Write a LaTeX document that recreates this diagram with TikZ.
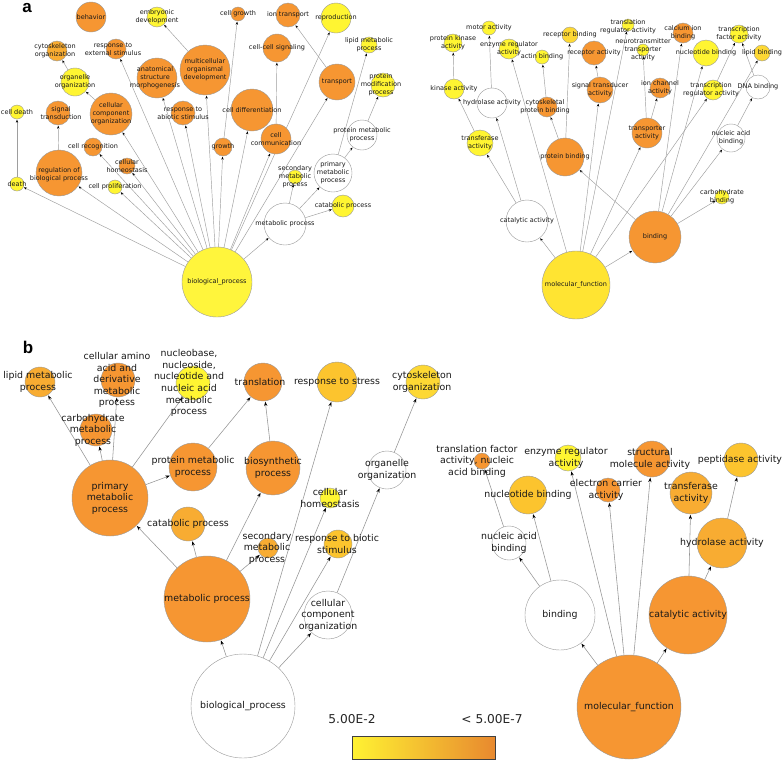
\documentclass[tikz,border=0pt]{standalone}
\usepackage{fontspec}
\setmainfont{DejaVu Sans}
\newfontfamily\labfont{Liberation Sans}
\usetikzlibrary{arrows.meta}
\definecolor{orA}{RGB}{246,150,50}
\definecolor{orB}{RGB}{248,172,50}
\definecolor{gold}{RGB}{252,196,46}
\definecolor{goldY}{RGB}{253,216,52}
\definecolor{yel}{RGB}{255,245,50}
\definecolor{yelbp}{RGB}{255,245,60}
\definecolor{yelmf}{RGB}{255,228,50}
\definecolor{barY}{RGB}{255,242,50}
\definecolor{barO}{RGB}{232,137,47}
\pgfdeclarelayer{bg}
\pgfsetlayers{bg,main}
\tikzset{
 gc/.style={circle,inner sep=0pt,draw=black!40,line width=0.4pt},
 ta/.style={font=\fontsize{6.5}{7.9}\selectfont,align=center,text=black!90,inner sep=0pt},
 tb/.style={font=\fontsize{9.4}{11.6}\selectfont,align=center,text=black!90,inner sep=0pt},
 ea/.style={draw=black!38,line width=0.45pt,-{Stealth[length=3pt,width=2.4pt,color=black]},shorten >=0.5pt},
 eb/.style={draw=black!42,line width=0.55pt,-{Stealth[length=4.5pt,width=3.2pt,color=black]},shorten >=0.5pt},
 plab/.style={font=\labfont\bfseries\fontsize{17}{17}\selectfont,inner sep=0pt}
}
\newcommand{\gn}[6]{\node[gc,minimum size=2*#3,fill=#4] (#1) at (#2) {}; \node[#5] at (#1) {#6};}
\begin{document}
\begin{tikzpicture}[x=1pt,y=-1pt]
\path[use as bounding box] (0,0) rectangle (784,761);
\node[plab] at (27,8) {a};
\node[plab] at (28,347) {b};
% ---------- panel a left
\gn{behav}{91,17}{15}{orA}{ta}{behavior}
\gn{embryo}{157,17}{10}{yel}{ta}{embryonic\\development}
\gn{cytoa}{57,51}{10}{orB}{ta,xshift=-2pt}{cytoskeleton\\organization}
\gn{rext}{116,49}{10}{orA}{ta,xshift=-3pt}{response to\\external stimulus}
\gn{orgA}{75,82}{14}{yel}{ta}{organelle\\organization}
\gn{anat}{157,78}{20}{orA}{ta,xshift=-2pt}{anatomical\\structure\\morphogenesis}
\gn{multi}{205,70}{25}{orA}{ta}{multicellular\\organismal\\development}
\gn{cdeath}{17,112}{7}{yel}{ta}{cell death}
\gn{sigtr}{58,113}{12}{orA}{ta,xshift=3pt}{signal\\transduction}
\gn{ccoA}{111,114}{21}{orA}{ta}{cellular\\component\\organization}
\gn{rabio}{183,113}{12}{orA}{ta}{response to\\abiotic stimulus}
\gn{crec}{93,147}{9}{orA}{ta}{cell recognition}
\gn{chomA}{127,166}{8}{orA}{ta}{cellular\\homeostasis}
\gn{regbp}{59,173}{23}{orA}{ta,yshift=-1.5pt}{regulation of\\biological process}
\gn{death}{17,184}{7}{yel}{ta}{death}
\gn{cprol}{115,187}{7}{yel}{ta}{cell proliferation}
\gn{bpA}{217,282}{35}{yelbp}{ta}{biological\_process}
\gn{cgrow}{238,14}{7}{orA}{ta}{cell growth}
\gn{iont}{288,15}{12}{orA}{ta}{ion transport}
\gn{repro}{336,18}{15}{yel}{ta}{reproduction}
\gn{ccsig}{277,48}{14}{orA}{ta}{cell-cell signaling}
\gn{lipA}{369,45}{8}{yel}{ta}{lipid metabolic\\process}
\gn{transp}{337,82}{18}{orA}{ta}{transport}
\gn{protmod}{383,85}{12}{yel}{ta,xshift=-2pt}{protein\\modification\\process}
\gn{cdiff}{252,110}{21}{orA}{ta}{cell differentiation}
\gn{growth}{223,147}{9}{orA}{ta}{growth}
\gn{ccomm}{276,139}{15}{orA}{ta}{cell\\communication}
\gn{pmpA}{362,135}{15}{white}{ta}{protein metabolic\\process}
\gn{secA}{295,177}{7}{yel}{ta}{secondary\\metabolic\\process}
\gn{primA}{333,173}{19}{white}{ta}{primary\\metabolic\\process}
\gn{metA}{285,224}{21}{white}{ta}{metabolic process}
\gn{catA}{343,206}{11}{yel}{ta}{catabolic process}
% ---------- panel a right
\gn{motor}{489,28}{7}{yel}{ta}{motor activity}
\gn{pka}{453,43}{9}{yel}{ta}{protein kinase\\activity}
\gn{eraA}{509,49}{10}{yel}{ta}{enzyme regulator\\activity}
\gn{recb}{570,35}{8}{goldY}{ta}{receptor binding}
\gn{actin}{542,57}{7}{yel}{ta}{actin binding}
\gn{reca}{594,53}{12}{orA}{ta}{receptor activity}
\gn{kin}{454,89}{10}{yel}{ta}{kinase activity}
\gn{hydA}{492,103}{15}{white}{ta}{hydrolase activity}
\gn{cytpb}{547,107}{10}{orA}{ta,xshift=-2pt}{cytoskeletal\\protein binding}
\gn{sigt}{600,90}{13}{orA}{ta}{signal transducer\\activity}
\gn{trfA}{480,143}{13}{yel}{ta}{transferase\\activity}
\gn{protb}{565,157}{19}{orA}{ta}{protein binding}
\gn{trreg}{628,25}{6}{yel}{ta,yshift=-2pt}{translation\\regulator activity}
\gn{neuro}{643,50}{6}{yel}{ta}{neurotransmitter\\transporter\\activity}
\gn{calc}{683,33}{10}{orA}{ta}{calcium ion\\binding}
\gn{nucbA}{706,53}{13}{yel}{ta}{nucleotide binding}
\gn{tfa}{739,34}{9}{yel}{ta}{transcription\\factor activity}
\gn{lipb}{762,53}{8}{goldY}{ta}{lipid binding}
\gn{ionch}{660,88}{10}{orA}{ta}{ion channel\\activity}
\gn{treg}{713,90}{10}{yel}{ta,xshift=-2pt}{transcription\\regulator activity}
\gn{dna}{758,87}{12}{white}{ta}{DNA binding}
\gn{trpA}{647,133}{15}{orA}{ta}{transporter\\activity}
\gn{nabA}{731,138}{14}{white}{ta}{nucleic acid\\binding}
\gn{carb}{722,197}{7}{yel}{ta}{carbohydrate\\binding}
\gn{catalA}{527,221}{21}{white}{ta}{catalytic activity}
\gn{bindA}{655,237}{26}{orA}{ta}{binding}
\gn{mfA}{576,285}{34}{yelmf}{ta}{molecular\_function}
% ---------- panel b left
\gn{lipB}{40,382}{15}{orB}{tb,xshift=-2pt}{lipid metabolic\\process}
\gn{camino}{118,380}{17}{orA}{tb,xshift=-1pt}{cellular amino\\acid and\\derivative\\metabolic\\process}
\gn{nucleo}{193,383}{17}{yel}{tb,xshift=-4pt}{nucleobase,\\nucleoside,\\nucleotide and\\nucleic acid\\metabolic\\process}
\gn{carbB}{96,430}{16}{orA}{tb,xshift=-3pt}{carbohydrate\\metabolic\\process}
\gn{transl}{263,382}{19}{orA}{tb,xshift=-3pt}{translation}
\gn{rstress}{337,382}{20}{gold}{tb}{response to stress}
\gn{cytoB}{423,382}{17}{goldY}{tb,xshift=-1pt}{cytoskeleton\\organization}
\gn{pmpB}{193,467}{24}{orA}{tb}{protein metabolic\\process}
\gn{biosyn}{273,468}{27}{orA}{tb}{biosynthetic\\process}
\gn{primB}{110,498}{38}{orA}{tb}{primary\\metabolic\\process}
\gn{orgB}{387,470}{19}{white}{tb}{organelle\\organization}
\gn{chomB}{330,498}{10}{yel}{tb}{cellular\\homeostasis}
\gn{catB}{188,524}{17}{orB}{tb}{catabolic process}
\gn{secB}{268,548}{10}{orB}{tb,xshift=-1pt}{secondary\\metabolic\\process}
\gn{rbio}{338,544}{14}{gold}{tb,xshift=-1pt}{response to biotic\\stimulus}
\gn{metB}{207,599}{43}{orA}{tb}{metabolic process}
\gn{ccoB}{328,615}{24}{white}{tb}{cellular\\component\\organization}
\gn{bpB}{243,706}{52}{white}{tb}{biological\_process}
% ---------- panel b right
\gn{tfnab}{482,461}{8}{orA}{tb,xshift=-5pt}{translation factor\\activity, nucleic\\acid binding}
\gn{eraB}{568,458}{13}{yel}{tb,xshift=-2pt}{enzyme regulator\\activity}
\gn{struct}{652,459}{18}{orA}{tb,xshift=-2pt}{structural\\molecule activity}
\gn{pept}{741,460}{17}{gold}{tb,xshift=-1pt}{peptidase activity}
\gn{nucbB}{528,495}{19}{gold}{tb}{nucleotide binding}
\gn{elec}{608,490}{12}{orA}{tb,xshift=-2pt}{electron carrier\\activity}
\gn{trfB}{691,493}{21}{orB}{tb}{transferase\\activity}
\gn{nabB}{509,543}{17}{white}{tb}{nucleic acid\\binding}
\gn{hydB}{722,543}{25}{orB}{tb}{hydrolase activity}
\gn{bindB}{560,615}{35}{white}{tb}{binding}
\gn{catalB}{688,615}{39}{orA}{tb}{catalytic activity}
\gn{mfB}{629,707}{52}{orA}{tb}{molecular\_function}
% ---------- legend
\node[font=\fontsize{12.2}{14}\selectfont,text=black!85] (lo) at (352,719) {5.00E-2};
\node[font=\fontsize{12.2}{14}\selectfont,text=black!85] (hi) at (492,719) {< 5.00E-7};
\shade[left color=barY,right color=barO] (352,736) rectangle (495,759);
\draw[black!75,line width=0.6pt] (352,736) rectangle (495,759);
% ---------- edges
\begin{pgfonlayer}{bg}
\fill[white] (0,0) rectangle (784,761);
\foreach \x in {death,regbp,cprol,crec,chomA,ccoA,rext,anat,rabio,multi,growth,cdiff,ccomm,repro,transp,metA} \draw[ea] (bpA) -- (\x);
\draw[ea] (death) -- (cdeath);
\draw[ea] (regbp) -- (sigtr);
\draw[ea] (ccoA) -- (orgA);
\draw[ea] (orgA) -- (cytoa);
\draw[ea] (multi) -- (embryo);
\draw[ea] (growth) -- (cgrow);
\draw[ea] (ccomm) -- (ccsig);
\draw[ea] (transp) -- (iont);
\foreach \x in {primA,secA,catA} \draw[ea] (metA) -- (\x);
\foreach \x in {pmpA,lipA} \draw[ea] (primA) -- (\x);
\draw[ea] (pmpA) -- (protmod);
\foreach \x in {catalA,bindA,eraA,sigt,trreg,trpA,treg} \draw[ea] (mfA) -- (\x);
\foreach \x in {trfA,hydA} \draw[ea] (catalA) -- (\x);
\draw[ea] (trfA) -- (kin);
\draw[ea] (kin) -- (pka);
\draw[ea] (hydA) -- (motor);
\draw[ea] (sigt) -- (reca);
\foreach \x in {protb,calc,nucbA,lipb,nabA,carb} \draw[ea] (bindA) -- (\x);
\foreach \x in {recb,cytpb} \draw[ea] (protb) -- (\x);
\draw[ea] (cytpb) -- (actin);
\foreach \x in {neuro,ionch} \draw[ea] (trpA) -- (\x);
\draw[ea] (treg) -- (tfa);
\draw[ea] (dna) -- (tfa);
\draw[ea] (nabA) -- (dna);
\foreach \x in {metB,rstress,chomB,rbio,ccoB} \draw[eb] (bpB) -- (\x);
\foreach \x in {primB,catB,secB,biosyn} \draw[eb] (metB) -- (\x);
\foreach \x in {pmpB,lipB,carbB,camino,nucleo} \draw[eb] (primB) -- (\x);
\draw[eb] (pmpB) -- (transl);
\draw[eb] (biosyn) -- (transl);
\draw[eb] (ccoB) -- (orgB);
\draw[eb] (orgB) -- (cytoB);
\foreach \x in {bindB,catalB,eraB,elec,struct} \draw[eb] (mfB) -- (\x);
\foreach \x in {nabB,nucbB} \draw[eb] (bindB) -- (\x);
\draw[eb] (nabB) -- (tfnab);
\foreach \x in {hydB,trfB} \draw[eb] (catalB) -- (\x);
\draw[eb] (hydB) -- (pept);
\end{pgfonlayer}
\end{tikzpicture}
\end{document}
